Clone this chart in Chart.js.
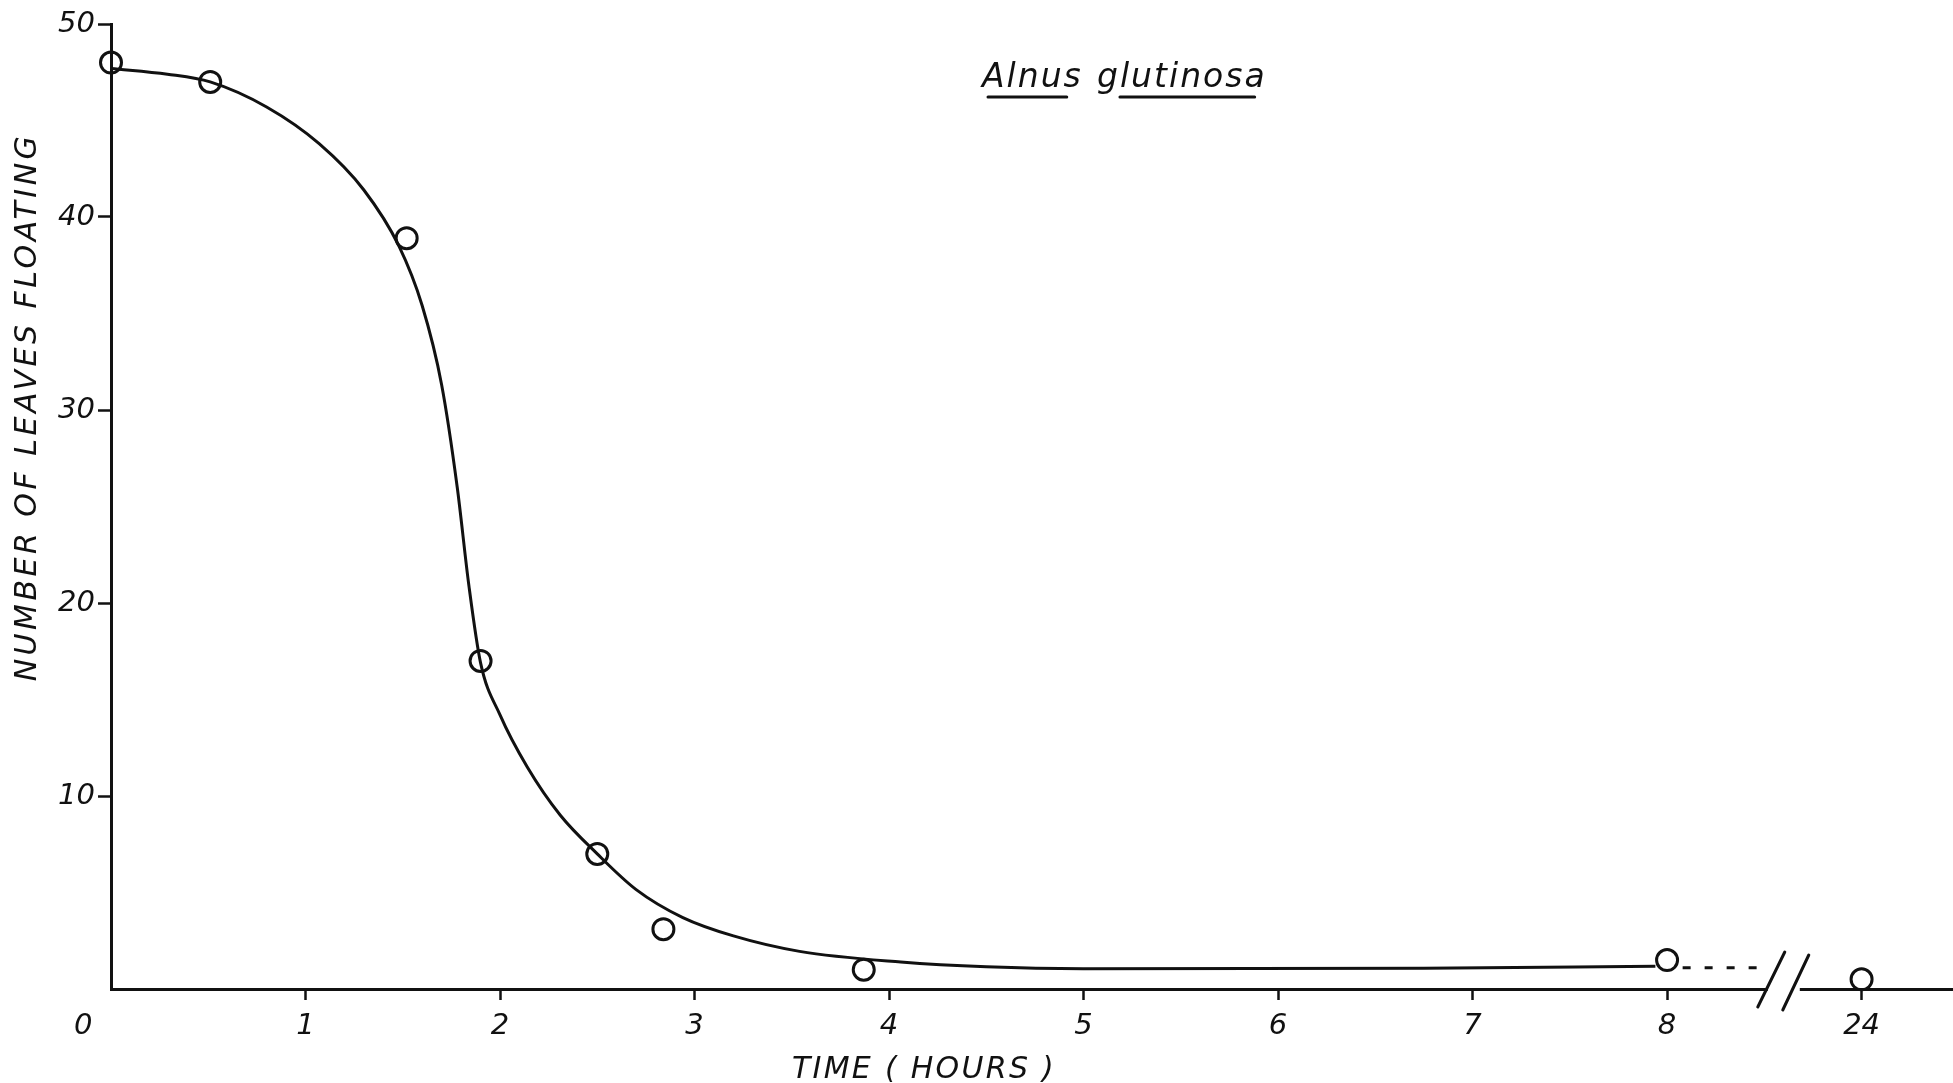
<!DOCTYPE html>
<html lang="en">
<head>
<meta charset="UTF-8">
<title>Alnus glutinosa - number of leaves floating</title>
<script src="https://cdn.jsdelivr.net/npm/chart.js"></script>
<style>
  html, body { margin: 0; padding: 0; background: #fff; }
  canvas { display: block; }
</style>
</head>
<body>
<canvas id="leafChart" width="1953" height="1083"></canvas>
<script>
  // observed counts (open circles), time in hours; last one read after 24 h
  const obsHours = [0, 0.51, 1.52, 1.9, 2.5, 2.84, 3.87, 8, 24];
  const obsLeaves = [48, 47, 38.9, 17, 7, 3.1, 1, 1.5, 0.5];

  // hand drawn curve
  const curveHours = [0, 0.29, 0.51, 0.8, 1.07, 1.3, 1.48, 1.6, 1.7, 1.78, 1.84, 1.9, 2.0, 2.14, 2.31, 2.5,
    2.7, 2.94, 3.2, 3.54, 4.06, 4.5, 5.0, 6.75, 7.94];
  const curveLeaves = [47.7, 47.4, 47.0, 45.7, 43.8, 41.4, 38.5, 35.4, 31.3, 26.0, 20.9, 16.9, 14.2, 11.5, 9.0, 7.0,
    5.15, 3.7, 2.75, 1.95, 1.4, 1.15, 1.05, 1.08, 1.18];

  // dashed bit after 8 h, running up to the axis break
  const dashHours = [8.08, 8.5];
  const dashLeaves = [1.1, 1.1];

  // broken time axis: 24 h gets the slot right after 8 h
  const xTickPos = [0, 1, 2, 3, 4, 5, 6, 7, 8, 9];
  const xTickLabels = ['0', '1', '2', '3', '4', '5', '6', '7', '8', '24'];
  const yTicks = [10, 20, 30, 40, 50];
  const breakAt = 8.6;

  const ink = '#111';
  const FONT = '"DejaVu Sans", sans-serif';

  const slot = h => {
    const i = xTickLabels.indexOf(String(h));
    return h > 8 && i >= 0 ? xTickPos[i] : h;
  };
  const pts = (xs, ys) => xs.map((h, i) => ({ x: slot(h), y: ys[i] }));

  // texts and the axis break, hand lettered in the original
  const lettering = {
    id: 'lettering',
    afterDraw(chart) {
      const { ctx, chartArea: area, scales: { x } } = chart;
      ctx.save();
      ctx.fillStyle = ink;
      ctx.strokeStyle = ink;
      ctx.lineCap = 'round';

      // species name, underlined
      ctx.font = `italic 33px ${FONT}`;
      ctx.letterSpacing = '2px';
      ctx.textAlign = 'left';
      ctx.textBaseline = 'alphabetic';
      const nameX = 982, nameY = 87;
      const first = 'Alnus', second = 'glutinosa';
      ctx.fillText(first, nameX, nameY);
      const secondX = 1097;
      ctx.fillText(second, secondX, nameY);
      const wFirst = ctx.measureText(first).width;
      const wSecond = ctx.measureText(second).width;
      const wG = ctx.measureText('g').width;
      ctx.lineWidth = 3;
      ctx.beginPath();
      ctx.moveTo(nameX + 6, nameY + 10);
      ctx.lineTo(nameX + wFirst - 16, nameY + 10);
      ctx.moveTo(secondX + wG, nameY + 10);
      ctx.lineTo(secondX + wSecond - 12, nameY + 10);
      ctx.stroke();

      // y title
      ctx.save();
      ctx.translate(28, 407);
      ctx.rotate(-Math.PI / 2);
      ctx.font = `italic 30px ${FONT}`;
      ctx.letterSpacing = '3.5px';
      ctx.textAlign = 'center';
      ctx.textBaseline = 'middle';
      ctx.fillText('NUMBER OF LEAVES FLOATING', 0, 0);
      ctx.restore();

      // x title
      ctx.font = `italic 30px ${FONT}`;
      ctx.letterSpacing = '2.3px';
      ctx.textAlign = 'center';
      ctx.fillText('TIME ( HOURS )', 924, 1078);

      // axis break
      const bx = x.getPixelForValue(breakAt);
      const by = area.bottom;
      ctx.fillStyle = '#fff';
      ctx.fillRect(bx - 16, by - 4, 32, 8);
      ctx.lineWidth = 3;
      ctx.beginPath();
      ctx.moveTo(bx - 26, by + 18);
      ctx.lineTo(bx + 1, by - 37);
      ctx.moveTo(bx - 1, by + 21);
      ctx.lineTo(bx + 25, by - 34);
      ctx.stroke();
      ctx.restore();
    }
  };

  new Chart(document.getElementById('leafChart'), {
    type: 'line',
    data: {
      datasets: [
        {
          label: 'observed',
          data: pts(obsHours, obsLeaves),
          showLine: false,
          pointStyle: 'circle',
          pointRadius: 10.5,
          pointBorderWidth: 3,
          pointBorderColor: ink,
          pointBackgroundColor: 'rgba(0,0,0,0)',
          clip: false
        },
        {
          label: 'curve',
          data: pts(curveHours, curveLeaves),
          borderColor: ink,
          borderWidth: 3,
          pointRadius: 0,
          cubicInterpolationMode: 'monotone',
          fill: false,
          clip: false
        },
        {
          label: 'continued',
          data: pts(dashHours, dashLeaves),
          borderColor: ink,
          borderWidth: 3,
          borderDash: [8, 14],
          pointRadius: 0,
          fill: false,
          clip: false
        }
      ]
    },
    options: {
      responsive: false,
      animation: false,
      events: [],
      layout: { autoPadding: false, padding: { top: 24, right: 0, bottom: 0, left: 0 } },
      plugins: { legend: { display: false }, tooltip: { enabled: false } },
      scales: {
        x: {
          type: 'linear',
          min: 0,
          max: 9.47,
          afterBuildTicks: s => { s.ticks = xTickPos.map(v => ({ value: v })); },
          afterFit: s => { s.height = 94; },
          ticks: {
            color: ink,
            font: { family: FONT, size: 29, style: 'italic' },
            padding: 9,
            maxRotation: 0,
            autoSkip: false,
            // the 0 sits left of the corner in the original
            callback: v => v === 0 ? '0      ' : xTickLabels[xTickPos.indexOf(v)]
          },
          grid: {
            drawOnChartArea: false,
            tickLength: 11,
            tickWidth: 2.5,
            tickColor: c => c.tick && c.tick.value === 0 ? 'rgba(0,0,0,0)' : ink
          },
          border: { color: ink, width: 3 }
        },
        y: {
          min: 0,
          max: 50,
          afterBuildTicks: s => { s.ticks = yTicks.map(v => ({ value: v })); },
          afterFit: s => { s.width = 111; },
          ticks: {
            color: ink,
            font: { family: FONT, size: 29, style: 'italic' },
            padding: 3
          },
          grid: {
            drawOnChartArea: false,
            tickLength: 13,
            tickWidth: 2.5,
            tickColor: ink
          },
          border: { color: ink, width: 3 }
        }
      }
    },
    plugins: [lettering]
  });
</script>
</body>
</html>
